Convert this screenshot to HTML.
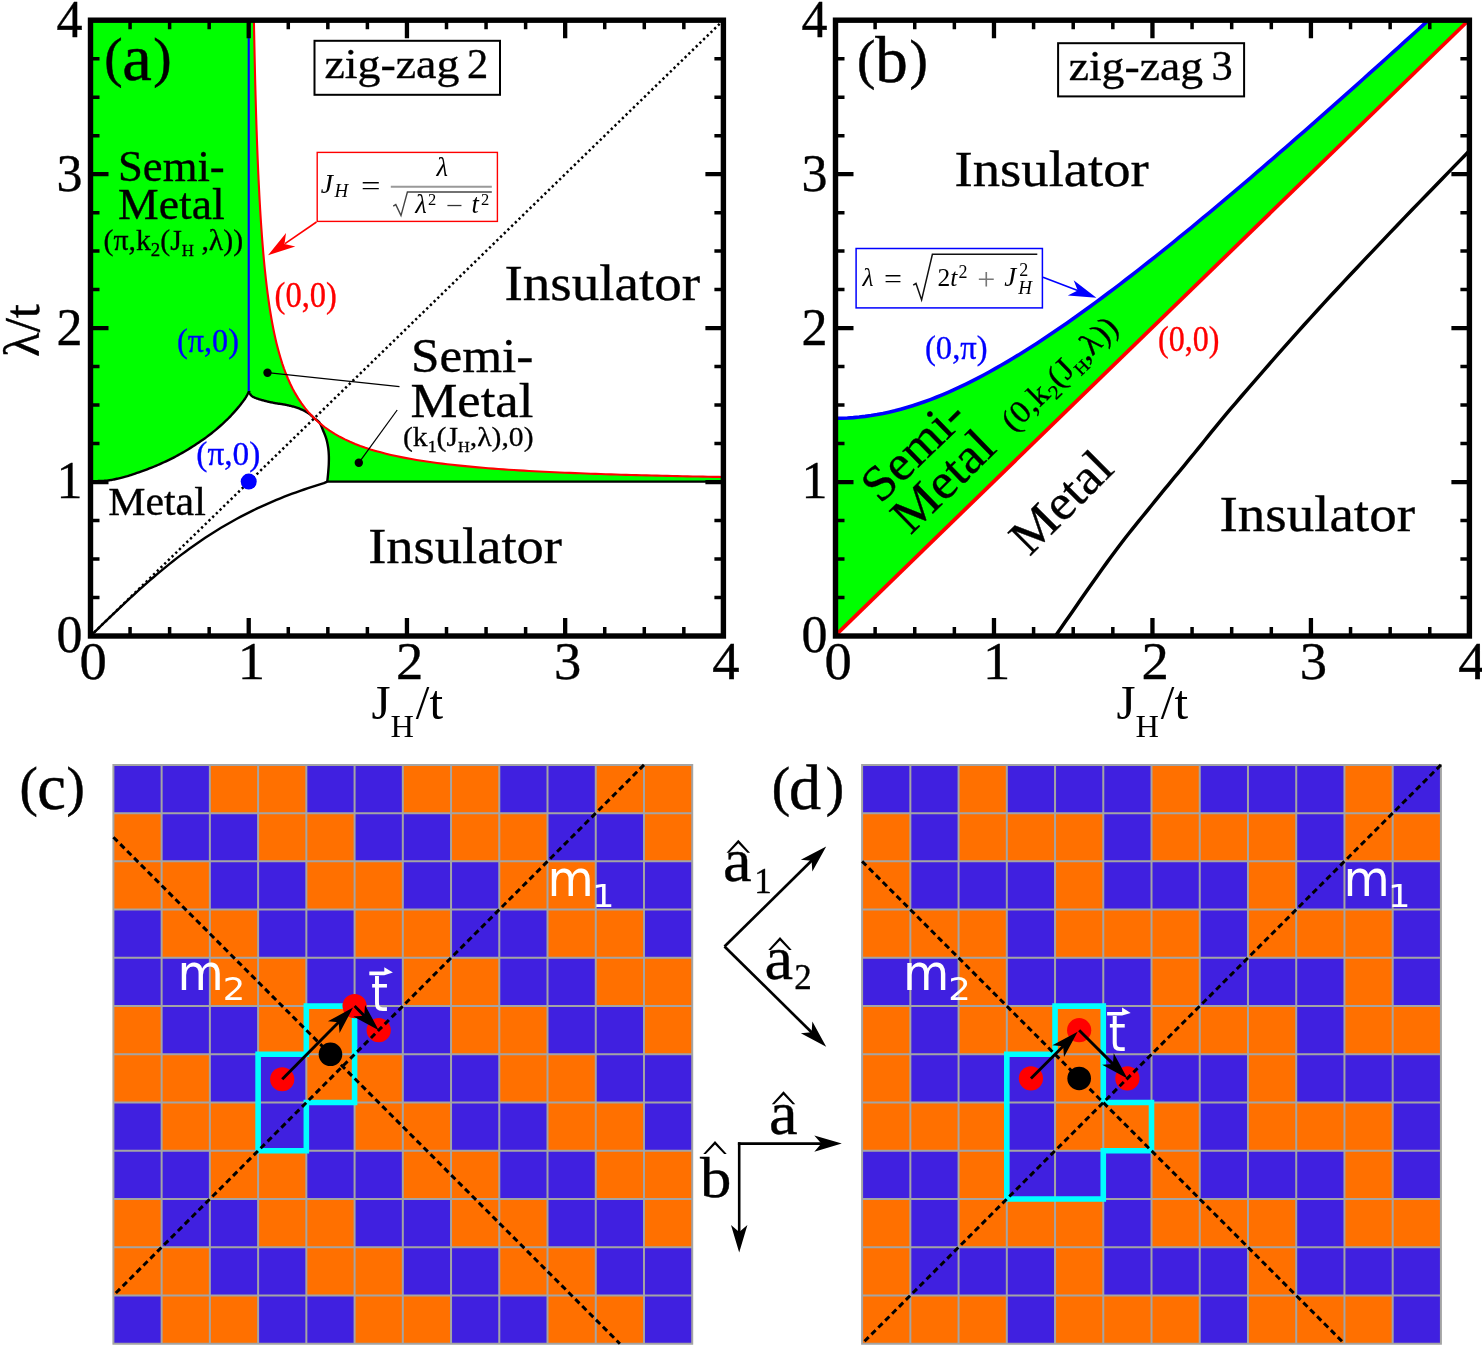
<!DOCTYPE html>
<html lang="en"><head><meta charset="utf-8"><title>Phase diagrams zig-zag 2 / zig-zag 3</title>
<style>html,body{margin:0;padding:0;background:#fff}svg{display:block}text{white-space:pre}</style></head><body>
<svg width="1482" height="1348" viewBox="0 0 1482 1348">
<rect width="1482" height="1348" fill="#fff"/>
<g id="plot-a">
<path d="M90.5 20.2 L253.91 20.2 L253.91 20.2 L254 25.18 L254.09 30.15 L254.19 35.13 L254.29 40.1 L254.38 45.08 L254.49 50.06 L254.59 55.03 L254.7 60.01 L254.81 64.98 L254.92 69.96 L255.04 74.94 L255.16 79.91 L255.28 84.89 L255.41 89.86 L255.54 94.84 L255.68 99.82 L255.82 104.79 L255.96 109.77 L256.11 114.74 L256.27 119.72 L256.42 124.7 L256.59 129.67 L256.76 134.65 L256.93 139.62 L257.11 144.6 L257.3 149.58 L257.49 154.55 L257.69 159.53 L257.9 164.5 L258.11 169.48 L258.34 174.46 L258.57 179.43 L258.81 184.41 L259.06 189.38 L259.31 194.36 L259.58 199.34 L259.86 204.31 L260.15 209.29 L260.45 214.26 L260.77 219.24 L261.1 224.22 L261.44 229.19 L261.8 234.17 L262.17 239.15 L262.56 244.12 L262.97 249.1 L263.39 254.07 L263.84 259.05 L264.31 264.03 L264.8 269 L265.32 273.98 L265.86 278.95 L266.44 283.93 L267.04 288.91 L267.68 293.88 L268.35 298.86 L269.06 303.83 L269.81 308.81 L270.61 313.79 L271.46 318.76 L272.36 323.74 L273.32 328.71 L274.35 333.69 L275.45 338.67 L276.62 343.64 L277.88 348.62 L279.23 353.59 L280.7 358.57 L282.27 363.55 L283.99 368.52 L285.85 373.5 L287.88 378.47 L290.1 383.45 L292.54 388.43 L295.23 393.4 L298.21 398.38 L301.54 403.35 L305.27 408.33 L309.48 413.31 L314.26 418.28 L319.38 422.94 L324.49 427.03 L329.61 430.66 L334.72 433.9 L339.83 436.8 L344.95 439.42 L350.06 441.8 L355.18 443.96 L360.29 445.93 L365.41 447.74 L370.52 449.41 L375.63 450.94 L380.75 452.36 L385.86 453.68 L390.98 454.91 L396.09 456.05 L401.21 457.12 L406.32 458.12 L411.43 459.05 L416.55 459.93 L421.66 460.75 L426.78 461.53 L431.89 462.26 L437 462.96 L442.12 463.61 L447.23 464.23 L452.35 464.82 L457.46 465.37 L462.58 465.9 L467.69 466.41 L472.8 466.89 L477.92 467.34 L483.03 467.78 L488.15 468.19 L493.26 468.59 L498.38 468.97 L503.49 469.33 L508.6 469.68 L513.72 470.01 L518.83 470.33 L523.95 470.64 L529.06 470.93 L534.17 471.22 L539.29 471.49 L544.4 471.75 L549.52 472 L554.63 472.24 L559.75 472.47 L564.86 472.7 L569.97 472.91 L575.09 473.12 L580.2 473.32 L585.32 473.52 L590.43 473.71 L595.54 473.89 L600.66 474.06 L605.77 474.23 L610.89 474.4 L616 474.56 L621.12 474.71 L626.23 474.86 L631.34 475.01 L636.46 475.15 L641.57 475.28 L646.69 475.41 L651.8 475.54 L656.92 475.67 L662.03 475.79 L667.14 475.91 L672.26 476.02 L677.37 476.13 L682.49 476.24 L687.6 476.34 L692.71 476.44 L697.83 476.54 L702.94 476.64 L708.06 476.73 L713.17 476.83 L718.29 476.91 L723.4 477 L723.4 481.6 L327.3 481.6 L327.3 481.6 L327.34 481.15 L327.4 480.6 L327.47 479.94 L327.54 479.2 L327.63 478.4 L327.71 477.56 L327.8 476.68 L327.89 475.79 L327.97 474.89 L328.06 474.02 L328.13 473.19 L328.2 472.4 L328.26 471.65 L328.32 470.9 L328.39 470.15 L328.44 469.41 L328.5 468.67 L328.56 467.93 L328.61 467.19 L328.66 466.46 L328.7 465.72 L328.74 464.98 L328.77 464.24 L328.8 463.5 L328.82 462.76 L328.84 462.01 L328.86 461.25 L328.87 460.5 L328.88 459.75 L328.89 458.99 L328.89 458.24 L328.88 457.5 L328.87 456.76 L328.85 456.03 L328.83 455.31 L328.8 454.6 L328.76 453.9 L328.72 453.22 L328.68 452.54 L328.63 451.87 L328.57 451.21 L328.51 450.55 L328.44 449.89 L328.37 449.24 L328.29 448.59 L328.2 447.93 L328.1 447.27 L328 446.6 L327.89 445.93 L327.77 445.25 L327.65 444.58 L327.52 443.9 L327.39 443.23 L327.24 442.55 L327.09 441.87 L326.93 441.2 L326.76 440.52 L326.59 439.85 L326.4 439.17 L326.2 438.5 L325.99 437.83 L325.76 437.16 L325.53 436.49 L325.28 435.81 L325.02 435.14 L324.76 434.48 L324.49 433.81 L324.21 433.14 L323.93 432.48 L323.65 431.81 L323.38 431.16 L323.1 430.5 L322.83 429.84 L322.56 429.16 L322.3 428.48 L322.03 427.79 L321.76 427.11 L321.49 426.43 L321.21 425.77 L320.92 425.12 L320.61 424.49 L320.29 423.9 L319.96 423.33 L319.6 422.8 L319.2 422.3 L318.76 421.81 L318.27 421.34 L317.76 420.89 L317.24 420.46 L316.71 420.06 L316.2 419.68 L315.72 419.34 L315.27 419.02 L314.87 418.74 L314.53 418.49 L314.26 418.28 L314.26 418.28 L314.01 418.05 L313.7 417.76 L313.34 417.42 L312.94 417.04 L312.5 416.63 L312.03 416.19 L311.53 415.74 L311.02 415.28 L310.49 414.83 L309.96 414.4 L309.42 413.98 L308.9 413.6 L308.37 413.24 L307.84 412.88 L307.29 412.53 L306.73 412.18 L306.16 411.84 L305.57 411.5 L304.97 411.17 L304.36 410.84 L303.74 410.52 L303.11 410.21 L302.46 409.9 L301.8 409.6 L301.12 409.31 L300.42 409.02 L299.7 408.74 L298.97 408.46 L298.22 408.19 L297.46 407.93 L296.7 407.67 L295.93 407.42 L295.17 407.18 L294.4 406.94 L293.65 406.72 L292.9 406.5 L292.16 406.29 L291.42 406.1 L290.67 405.91 L289.93 405.73 L289.19 405.56 L288.45 405.39 L287.71 405.24 L286.97 405.08 L286.23 404.93 L285.48 404.79 L284.74 404.64 L284 404.5 L283.26 404.36 L282.52 404.24 L281.78 404.12 L281.03 404.01 L280.29 403.9 L279.55 403.79 L278.81 403.69 L278.07 403.58 L277.33 403.47 L276.58 403.36 L275.84 403.23 L275.1 403.1 L274.36 402.96 L273.61 402.82 L272.86 402.67 L272.1 402.52 L271.35 402.36 L270.6 402.21 L269.85 402.05 L269.11 401.88 L268.37 401.71 L267.64 401.55 L266.91 401.37 L266.2 401.2 L265.49 401.02 L264.77 400.84 L264.05 400.65 L263.34 400.46 L262.63 400.26 L261.93 400.07 L261.24 399.87 L260.56 399.67 L259.91 399.48 L259.28 399.28 L258.67 399.09 L258.1 398.9 L257.55 398.71 L257.02 398.53 L256.52 398.35 L256.03 398.18 L255.56 398 L255.11 397.82 L254.68 397.65 L254.27 397.47 L253.88 397.28 L253.5 397.09 L253.14 396.9 L252.8 396.7 L252.48 396.49 L252.18 396.28 L251.9 396.07 L251.64 395.85 L251.4 395.63 L251.18 395.4 L250.97 395.17 L250.78 394.94 L250.59 394.71 L250.42 394.47 L250.26 394.24 L250.1 394 L249.95 393.75 L249.82 393.48 L249.71 393.2 L249.6 392.91 L249.51 392.62 L249.43 392.33 L249.36 392.05 L249.3 391.79 L249.24 391.55 L249.19 391.33 L249.14 391.15 L249.1 391 L249.1 391 L248.93 391.34 L248.74 391.74 L248.53 392.21 L248.29 392.73 L248.02 393.3 L247.73 393.92 L247.41 394.57 L247.06 395.26 L246.67 395.97 L246.25 396.7 L245.79 397.45 L245.3 398.2 L244.77 398.97 L244.2 399.78 L243.59 400.62 L242.95 401.49 L242.27 402.38 L241.57 403.3 L240.83 404.24 L240.07 405.19 L239.29 406.15 L238.48 407.13 L237.65 408.11 L236.8 409.1 L235.94 410.09 L235.06 411.1 L234.17 412.11 L233.26 413.14 L232.32 414.18 L231.36 415.23 L230.36 416.3 L229.32 417.39 L228.24 418.49 L227.11 419.61 L225.93 420.74 L224.7 421.9 L223.42 423.08 L222.09 424.29 L220.72 425.52 L219.31 426.77 L217.86 428.03 L216.36 429.31 L214.82 430.6 L213.24 431.9 L211.62 433.2 L209.96 434.5 L208.25 435.8 L206.5 437.1 L204.69 438.41 L202.8 439.74 L200.85 441.09 L198.85 442.46 L196.81 443.83 L194.73 445.19 L192.63 446.55 L190.53 447.89 L188.42 449.2 L186.32 450.47 L184.24 451.71 L182.2 452.9 L180.18 454.05 L178.15 455.17 L176.13 456.26 L174.1 457.32 L172.08 458.36 L170.05 459.37 L168.03 460.36 L166 461.33 L163.97 462.27 L161.95 463.2 L159.93 464.11 L157.9 465 L155.84 465.88 L153.71 466.75 L151.55 467.61 L149.37 468.46 L147.18 469.28 L145.02 470.08 L142.9 470.84 L140.83 471.58 L138.85 472.28 L136.97 472.93 L135.22 473.54 L133.6 474.1 L132.14 474.6 L130.81 475.04 L129.61 475.43 L128.5 475.78 L127.48 476.09 L126.51 476.36 L125.59 476.62 L124.7 476.86 L123.81 477.09 L122.91 477.32 L121.98 477.55 L121 477.8 L119.99 478.06 L118.97 478.31 L117.96 478.55 L116.94 478.79 L115.94 479.02 L114.94 479.24 L113.96 479.45 L112.99 479.64 L112.04 479.83 L111.1 480 L110.19 480.16 L109.3 480.3 L108.44 480.42 L107.61 480.53 L106.81 480.61 L106.03 480.69 L105.26 480.74 L104.51 480.79 L103.77 480.83 L103.03 480.87 L102.28 480.9 L101.53 480.93 L100.77 480.96 L100 481 L99.19 481.03 L98.32 481.06 L97.42 481.09 L96.5 481.11 L95.57 481.13 L94.67 481.14 L93.79 481.16 L92.97 481.17 L92.21 481.18 L91.54 481.18 L90.96 481.19 L90.5 481.2 Z" fill="#00ff00"/>
<path d="M90.5 481.2 L90.96 481.19 L91.54 481.18 L92.21 481.18 L92.97 481.17 L93.79 481.16 L94.67 481.14 L95.57 481.13 L96.5 481.11 L97.42 481.09 L98.32 481.06 L99.19 481.03 L100 481 L100.77 480.96 L101.53 480.93 L102.28 480.9 L103.03 480.87 L103.77 480.83 L104.51 480.79 L105.26 480.74 L106.03 480.69 L106.81 480.61 L107.61 480.53 L108.44 480.42 L109.3 480.3 L110.19 480.16 L111.1 480 L112.04 479.83 L112.99 479.64 L113.96 479.45 L114.94 479.24 L115.94 479.02 L116.94 478.79 L117.96 478.55 L118.97 478.31 L119.99 478.06 L121 477.8 L121.98 477.55 L122.91 477.32 L123.81 477.09 L124.7 476.86 L125.59 476.62 L126.51 476.36 L127.48 476.09 L128.5 475.78 L129.61 475.43 L130.81 475.04 L132.14 474.6 L133.6 474.1 L135.22 473.54 L136.97 472.93 L138.85 472.28 L140.83 471.58 L142.9 470.84 L145.02 470.08 L147.18 469.28 L149.37 468.46 L151.55 467.61 L153.71 466.75 L155.84 465.88 L157.9 465 L159.93 464.11 L161.95 463.2 L163.97 462.27 L166 461.33 L168.03 460.36 L170.05 459.37 L172.08 458.36 L174.1 457.32 L176.13 456.26 L178.15 455.17 L180.18 454.05 L182.2 452.9 L184.24 451.71 L186.32 450.47 L188.42 449.2 L190.53 447.89 L192.63 446.55 L194.73 445.19 L196.81 443.83 L198.85 442.46 L200.85 441.09 L202.8 439.74 L204.69 438.41 L206.5 437.1 L208.25 435.8 L209.96 434.5 L211.62 433.2 L213.24 431.9 L214.82 430.6 L216.36 429.31 L217.86 428.03 L219.31 426.77 L220.72 425.52 L222.09 424.29 L223.42 423.08 L224.7 421.9 L225.93 420.74 L227.11 419.61 L228.24 418.49 L229.32 417.39 L230.36 416.3 L231.36 415.23 L232.32 414.18 L233.26 413.14 L234.17 412.11 L235.06 411.1 L235.94 410.09 L236.8 409.1 L237.65 408.11 L238.48 407.13 L239.29 406.15 L240.07 405.19 L240.83 404.24 L241.57 403.3 L242.27 402.38 L242.95 401.49 L243.59 400.62 L244.2 399.78 L244.77 398.97 L245.3 398.2 L245.79 397.45 L246.25 396.7 L246.67 395.97 L247.06 395.26 L247.41 394.57 L247.73 393.92 L248.02 393.3 L248.29 392.73 L248.53 392.21 L248.74 391.74 L248.93 391.34 L249.1 391" fill="none" stroke="#000" stroke-width="2.4" stroke-linejoin="round"/>
<path d="M249.1 391 L249.14 391.15 L249.19 391.33 L249.24 391.55 L249.3 391.79 L249.36 392.05 L249.43 392.33 L249.51 392.62 L249.6 392.91 L249.71 393.2 L249.82 393.48 L249.95 393.75 L250.1 394 L250.26 394.24 L250.42 394.47 L250.59 394.71 L250.78 394.94 L250.97 395.17 L251.18 395.4 L251.4 395.63 L251.64 395.85 L251.9 396.07 L252.18 396.28 L252.48 396.49 L252.8 396.7 L253.14 396.9 L253.5 397.09 L253.88 397.28 L254.27 397.47 L254.68 397.65 L255.11 397.82 L255.56 398 L256.03 398.18 L256.52 398.35 L257.02 398.53 L257.55 398.71 L258.1 398.9 L258.67 399.09 L259.28 399.28 L259.91 399.48 L260.56 399.67 L261.24 399.87 L261.93 400.07 L262.63 400.26 L263.34 400.46 L264.05 400.65 L264.77 400.84 L265.49 401.02 L266.2 401.2 L266.91 401.37 L267.64 401.55 L268.37 401.71 L269.11 401.88 L269.85 402.05 L270.6 402.21 L271.35 402.36 L272.1 402.52 L272.86 402.67 L273.61 402.82 L274.36 402.96 L275.1 403.1 L275.84 403.23 L276.58 403.36 L277.33 403.47 L278.07 403.58 L278.81 403.69 L279.55 403.79 L280.29 403.9 L281.03 404.01 L281.78 404.12 L282.52 404.24 L283.26 404.36 L284 404.5 L284.74 404.64 L285.48 404.79 L286.23 404.93 L286.97 405.08 L287.71 405.24 L288.45 405.39 L289.19 405.56 L289.93 405.73 L290.67 405.91 L291.42 406.1 L292.16 406.29 L292.9 406.5 L293.65 406.72 L294.4 406.94 L295.17 407.18 L295.93 407.42 L296.7 407.67 L297.46 407.93 L298.22 408.19 L298.97 408.46 L299.7 408.74 L300.42 409.02 L301.12 409.31 L301.8 409.6 L302.46 409.9 L303.11 410.21 L303.74 410.52 L304.36 410.84 L304.97 411.17 L305.57 411.5 L306.16 411.84 L306.73 412.18 L307.29 412.53 L307.84 412.88 L308.37 413.24 L308.9 413.6 L309.42 413.98 L309.96 414.4 L310.49 414.83 L311.02 415.28 L311.53 415.74 L312.03 416.19 L312.5 416.63 L312.94 417.04 L313.34 417.42 L313.7 417.76 L314.01 418.05 L314.26 418.28 L314.53 418.49 L314.87 418.74 L315.27 419.02 L315.72 419.34 L316.2 419.68 L316.71 420.06 L317.24 420.46 L317.76 420.89 L318.27 421.34 L318.76 421.81 L319.2 422.3 L319.6 422.8 L319.96 423.33 L320.29 423.9 L320.61 424.49 L320.92 425.12 L321.21 425.77 L321.49 426.43 L321.76 427.11 L322.03 427.79 L322.3 428.48 L322.56 429.16 L322.83 429.84 L323.1 430.5 L323.38 431.16 L323.65 431.81 L323.93 432.48 L324.21 433.14 L324.49 433.81 L324.76 434.48 L325.02 435.14 L325.28 435.81 L325.53 436.49 L325.76 437.16 L325.99 437.83 L326.2 438.5 L326.4 439.17 L326.59 439.85 L326.76 440.52 L326.93 441.2 L327.09 441.87 L327.24 442.55 L327.39 443.23 L327.52 443.9 L327.65 444.58 L327.77 445.25 L327.89 445.93 L328 446.6 L328.1 447.27 L328.2 447.93 L328.29 448.59 L328.37 449.24 L328.44 449.89 L328.51 450.55 L328.57 451.21 L328.63 451.87 L328.68 452.54 L328.72 453.22 L328.76 453.9 L328.8 454.6 L328.83 455.31 L328.85 456.03 L328.87 456.76 L328.88 457.5 L328.89 458.24 L328.89 458.99 L328.88 459.75 L328.87 460.5 L328.86 461.25 L328.84 462.01 L328.82 462.76 L328.8 463.5 L328.77 464.24 L328.74 464.98 L328.7 465.72 L328.66 466.46 L328.61 467.19 L328.56 467.93 L328.5 468.67 L328.44 469.41 L328.39 470.15 L328.32 470.9 L328.26 471.65 L328.2 472.4 L328.13 473.19 L328.06 474.02 L327.97 474.89 L327.89 475.79 L327.8 476.68 L327.71 477.56 L327.63 478.4 L327.54 479.2 L327.47 479.94 L327.4 480.6 L327.34 481.15 L327.3 481.6" fill="none" stroke="#000" stroke-width="2.4" stroke-linejoin="round"/>
<path d="M90.5 636 L94.46 632.15 L98.41 628.31 L102.37 624.47 L106.32 620.65 L110.28 616.84 L114.23 613.05 L118.19 609.29 L122.14 605.55 L126.1 601.84 L130.06 598.16 L134.01 594.53 L137.97 590.93 L141.92 587.37 L145.88 583.86 L149.83 580.4 L153.79 576.99 L157.75 573.63 L161.7 570.32 L165.66 567.07 L169.61 563.87 L173.57 560.73 L177.52 557.66 L181.48 554.64 L185.44 551.68 L189.39 548.78 L193.35 545.94 L197.3 543.17 L201.26 540.46 L205.21 537.81 L209.17 535.22 L213.12 532.69 L217.08 530.22 L221.04 527.81 L224.99 525.46 L228.95 523.17 L232.9 520.94 L236.86 518.76 L240.81 516.64 L244.77 514.58 L248.72 512.57 L252.68 510.61 L256.64 508.7 L260.59 506.85 L264.55 505.04 L268.5 503.29 L272.46 501.58 L276.41 499.92 L280.37 498.3 L284.33 496.73 L288.28 495.2 L292.24 493.72 L296.19 492.27 L300.15 490.86 L304.1 489.5 L308.06 488.17 L312.01 486.88 L315.97 485.62 L319.93 484.4 L323.88 483.21 L327.3 481.6 L723.4 481.6" fill="none" stroke="#000" stroke-width="2.4" stroke-linejoin="round"/>
<line x1="90.5" y1="636" x2="723.4" y2="20.2" stroke="#000" stroke-width="2.5" stroke-dasharray="2.3 2.85"/>
<path d="M253.91 20.2 L254 25.18 L254.09 30.15 L254.19 35.13 L254.29 40.1 L254.38 45.08 L254.49 50.06 L254.59 55.03 L254.7 60.01 L254.81 64.98 L254.92 69.96 L255.04 74.94 L255.16 79.91 L255.28 84.89 L255.41 89.86 L255.54 94.84 L255.68 99.82 L255.82 104.79 L255.96 109.77 L256.11 114.74 L256.27 119.72 L256.42 124.7 L256.59 129.67 L256.76 134.65 L256.93 139.62 L257.11 144.6 L257.3 149.58 L257.49 154.55 L257.69 159.53 L257.9 164.5 L258.11 169.48 L258.34 174.46 L258.57 179.43 L258.81 184.41 L259.06 189.38 L259.31 194.36 L259.58 199.34 L259.86 204.31 L260.15 209.29 L260.45 214.26 L260.77 219.24 L261.1 224.22 L261.44 229.19 L261.8 234.17 L262.17 239.15 L262.56 244.12 L262.97 249.1 L263.39 254.07 L263.84 259.05 L264.31 264.03 L264.8 269 L265.32 273.98 L265.86 278.95 L266.44 283.93 L267.04 288.91 L267.68 293.88 L268.35 298.86 L269.06 303.83 L269.81 308.81 L270.61 313.79 L271.46 318.76 L272.36 323.74 L273.32 328.71 L274.35 333.69 L275.45 338.67 L276.62 343.64 L277.88 348.62 L279.23 353.59 L280.7 358.57 L282.27 363.55 L283.99 368.52 L285.85 373.5 L287.88 378.47 L290.1 383.45 L292.54 388.43 L295.23 393.4 L298.21 398.38 L301.54 403.35 L305.27 408.33 L309.48 413.31 L314.26 418.28 L319.38 422.94 L324.49 427.03 L329.61 430.66 L334.72 433.9 L339.83 436.8 L344.95 439.42 L350.06 441.8 L355.18 443.96 L360.29 445.93 L365.41 447.74 L370.52 449.41 L375.63 450.94 L380.75 452.36 L385.86 453.68 L390.98 454.91 L396.09 456.05 L401.21 457.12 L406.32 458.12 L411.43 459.05 L416.55 459.93 L421.66 460.75 L426.78 461.53 L431.89 462.26 L437 462.96 L442.12 463.61 L447.23 464.23 L452.35 464.82 L457.46 465.37 L462.58 465.9 L467.69 466.41 L472.8 466.89 L477.92 467.34 L483.03 467.78 L488.15 468.19 L493.26 468.59 L498.38 468.97 L503.49 469.33 L508.6 469.68 L513.72 470.01 L518.83 470.33 L523.95 470.64 L529.06 470.93 L534.17 471.22 L539.29 471.49 L544.4 471.75 L549.52 472 L554.63 472.24 L559.75 472.47 L564.86 472.7 L569.97 472.91 L575.09 473.12 L580.2 473.32 L585.32 473.52 L590.43 473.71 L595.54 473.89 L600.66 474.06 L605.77 474.23 L610.89 474.4 L616 474.56 L621.12 474.71 L626.23 474.86 L631.34 475.01 L636.46 475.15 L641.57 475.28 L646.69 475.41 L651.8 475.54 L656.92 475.67 L662.03 475.79 L667.14 475.91 L672.26 476.02 L677.37 476.13 L682.49 476.24 L687.6 476.34 L692.71 476.44 L697.83 476.54 L702.94 476.64 L708.06 476.73 L713.17 476.83 L718.29 476.91 L723.4 477" fill="none" stroke="#ff0000" stroke-width="2.1"/>
<line x1="248.72" y1="20.2" x2="248.72" y2="391" stroke="#0000ff" stroke-width="2.1"/>
<circle cx="248.72" cy="481.6" r="8" fill="#0000ff"/>
<circle cx="267.5" cy="372.7" r="4.2" fill="#000"/><line x1="267.5" y1="372.7" x2="399.5" y2="386.7" stroke="#000" stroke-width="1.25"/>
<circle cx="358.8" cy="462.8" r="4.2" fill="#000"/><line x1="358.8" y1="462.8" x2="397.2" y2="410" stroke="#000" stroke-width="1.25"/>
<rect x="90.5" y="20.2" width="632.9" height="615.8" fill="none" stroke="#000" stroke-width="5.4"/>
<path d="M130.06 20.2 v9 M130.06 636 v-9 M90.5 58.69 h9 M723.4 58.69 h-9" stroke="#000" stroke-width="3.5" fill="none"/>
<path d="M169.61 20.2 v9 M169.61 636 v-9 M90.5 97.17 h9 M723.4 97.17 h-9" stroke="#000" stroke-width="3.5" fill="none"/>
<path d="M209.17 20.2 v9 M209.17 636 v-9 M90.5 135.66 h9 M723.4 135.66 h-9" stroke="#000" stroke-width="3.5" fill="none"/>
<path d="M248.72 20.2 v18 M248.72 636 v-18 M90.5 174.15 h18 M723.4 174.15 h-18" stroke="#000" stroke-width="4.3" fill="none"/>
<path d="M288.28 20.2 v9 M288.28 636 v-9 M90.5 212.64 h9 M723.4 212.64 h-9" stroke="#000" stroke-width="3.5" fill="none"/>
<path d="M327.84 20.2 v9 M327.84 636 v-9 M90.5 251.12 h9 M723.4 251.12 h-9" stroke="#000" stroke-width="3.5" fill="none"/>
<path d="M367.39 20.2 v9 M367.39 636 v-9 M90.5 289.61 h9 M723.4 289.61 h-9" stroke="#000" stroke-width="3.5" fill="none"/>
<path d="M406.95 20.2 v18 M406.95 636 v-18 M90.5 328.1 h18 M723.4 328.1 h-18" stroke="#000" stroke-width="4.3" fill="none"/>
<path d="M446.51 20.2 v9 M446.51 636 v-9 M90.5 366.59 h9 M723.4 366.59 h-9" stroke="#000" stroke-width="3.5" fill="none"/>
<path d="M486.06 20.2 v9 M486.06 636 v-9 M90.5 405.07 h9 M723.4 405.07 h-9" stroke="#000" stroke-width="3.5" fill="none"/>
<path d="M525.62 20.2 v9 M525.62 636 v-9 M90.5 443.56 h9 M723.4 443.56 h-9" stroke="#000" stroke-width="3.5" fill="none"/>
<path d="M565.17 20.2 v18 M565.17 636 v-18 M90.5 482.05 h18 M723.4 482.05 h-18" stroke="#000" stroke-width="4.3" fill="none"/>
<path d="M604.73 20.2 v9 M604.73 636 v-9 M90.5 520.54 h9 M723.4 520.54 h-9" stroke="#000" stroke-width="3.5" fill="none"/>
<path d="M644.29 20.2 v9 M644.29 636 v-9 M90.5 559.02 h9 M723.4 559.02 h-9" stroke="#000" stroke-width="3.5" fill="none"/>
<path d="M683.84 20.2 v9 M683.84 636 v-9 M90.5 597.51 h9 M723.4 597.51 h-9" stroke="#000" stroke-width="3.5" fill="none"/>
<text x="93.1" y="678.8" font-size="52" fill="#000" font-family='"Liberation Serif", serif' stroke="#000" stroke-width="0.35" text-anchor="middle" textLength="27.3" lengthAdjust="spacingAndGlyphs">0</text>
<text x="82.4" y="652.4" font-size="52" fill="#000" font-family='"Liberation Serif", serif' stroke="#000" stroke-width="0.35" text-anchor="end">0</text>
<text x="251.32" y="678.8" font-size="52" fill="#000" font-family='"Liberation Serif", serif' stroke="#000" stroke-width="0.35" text-anchor="middle" textLength="27.3" lengthAdjust="spacingAndGlyphs">1</text>
<text x="82.4" y="498.45" font-size="52" fill="#000" font-family='"Liberation Serif", serif' stroke="#000" stroke-width="0.35" text-anchor="end">1</text>
<text x="409.55" y="678.8" font-size="52" fill="#000" font-family='"Liberation Serif", serif' stroke="#000" stroke-width="0.35" text-anchor="middle" textLength="27.3" lengthAdjust="spacingAndGlyphs">2</text>
<text x="82.4" y="344.5" font-size="52" fill="#000" font-family='"Liberation Serif", serif' stroke="#000" stroke-width="0.35" text-anchor="end">2</text>
<text x="567.77" y="678.8" font-size="52" fill="#000" font-family='"Liberation Serif", serif' stroke="#000" stroke-width="0.35" text-anchor="middle" textLength="27.3" lengthAdjust="spacingAndGlyphs">3</text>
<text x="82.4" y="190.55" font-size="52" fill="#000" font-family='"Liberation Serif", serif' stroke="#000" stroke-width="0.35" text-anchor="end">3</text>
<text x="726" y="678.8" font-size="52" fill="#000" font-family='"Liberation Serif", serif' stroke="#000" stroke-width="0.35" text-anchor="middle" textLength="27.3" lengthAdjust="spacingAndGlyphs">4</text>
<text x="82.4" y="36.6" font-size="52" fill="#000" font-family='"Liberation Serif", serif' stroke="#000" stroke-width="0.35" text-anchor="end">4</text>
<text x="39" y="357" font-size="51" fill="#000" font-family='"Liberation Serif", serif' stroke="#000" stroke-width="0.35" textLength="53" lengthAdjust="spacingAndGlyphs" transform="rotate(-90 39 357)">λ/t</text>
<text x="371.5" y="718.6" font-size="49" font-family='"Liberation Serif", serif'>J<tspan font-size="32.5" dy="18.4">H</tspan><tspan dy="-18.4" dx="1.8">/t</tspan></text>
<text font-family='"Liberation Serif", serif' fill="#000" stroke="#000" stroke-width="0.5"><tspan x="104.28" y="75.9" font-size="55">(</tspan><tspan x="122.2" y="79.9" font-size="66.5">a</tspan><tspan x="153.24" y="75.9" font-size="55">)</tspan></text>
<rect x="314.5" y="40.8" width="185.5" height="54" fill="#fff" stroke="#000" stroke-width="2"/>
<text x="324.4" y="78.3" font-size="42.5" fill="#000" font-family='"Liberation Serif", serif' stroke="#000" stroke-width="0.35" textLength="135" lengthAdjust="spacingAndGlyphs">zig-zag</text>
<text x="467" y="78.3" font-size="42.5" fill="#000" font-family='"Liberation Serif", serif' stroke="#000" stroke-width="0.35">2</text>
<text x="118" y="181" font-size="45" fill="#000" font-family='"Liberation Serif", serif' stroke="#000" stroke-width="0.35" textLength="106.7" lengthAdjust="spacingAndGlyphs">Semi-</text>
<text x="118" y="218.7" font-size="45" fill="#000" font-family='"Liberation Serif", serif' stroke="#000" stroke-width="0.35" textLength="106.7" lengthAdjust="spacingAndGlyphs">Metal</text>
<text x="103.6" y="250.2" font-size="30" font-family='"Liberation Serif", serif' stroke="#000" stroke-width="0.3" textLength="139.5" lengthAdjust="spacingAndGlyphs">(π,k<tspan font-size="19" dy="6">2</tspan><tspan dy="-6">(J</tspan><tspan font-size="17" dy="6">H</tspan><tspan dy="-6"> ,λ))</tspan></text>
<text x="177" y="351.8" font-size="34.5" fill="#0000ff" font-family='"Liberation Serif", serif' stroke="#0000ff" stroke-width="0.35" textLength="62" lengthAdjust="spacingAndGlyphs">(π,0)</text>
<text x="274.6" y="307.2" font-size="35" fill="#ff0000" font-family='"Liberation Serif", serif' stroke="#ff0000" stroke-width="0.35" textLength="62.3" lengthAdjust="spacingAndGlyphs">(0,0)</text>
<text x="504.4" y="300.4" font-size="50" fill="#000" font-family='"Liberation Serif", serif' stroke="#000" stroke-width="0.35" textLength="195.8" lengthAdjust="spacingAndGlyphs">Insulator</text>
<text x="411" y="372.1" font-size="49.5" fill="#000" font-family='"Liberation Serif", serif' stroke="#000" stroke-width="0.35" textLength="122.4" lengthAdjust="spacingAndGlyphs">Semi-</text>
<text x="410.4" y="416.6" font-size="49.5" fill="#000" font-family='"Liberation Serif", serif' stroke="#000" stroke-width="0.35" textLength="123" lengthAdjust="spacingAndGlyphs">Metal</text>
<text x="403" y="446.3" font-size="28" font-family='"Liberation Serif", serif' stroke="#000" stroke-width="0.3" textLength="130.5" lengthAdjust="spacingAndGlyphs">(k<tspan font-size="17" dy="5.5">1</tspan><tspan dy="-5.5">(J</tspan><tspan font-size="15.5" dy="5.5">H</tspan><tspan dy="-5.5">,λ),0)</tspan></text>
<text x="196.3" y="464.8" font-size="34.5" fill="#0000ff" font-family='"Liberation Serif", serif' stroke="#0000ff" stroke-width="0.35" textLength="64" lengthAdjust="spacingAndGlyphs">(π,0)</text>
<text x="108.2" y="514.7" font-size="41" fill="#000" font-family='"Liberation Serif", serif' stroke="#000" stroke-width="0.35" textLength="97.6" lengthAdjust="spacingAndGlyphs">Metal</text>
<text x="368.2" y="563.2" font-size="50" fill="#000" font-family='"Liberation Serif", serif' stroke="#000" stroke-width="0.35" textLength="193.8" lengthAdjust="spacingAndGlyphs">Insulator</text>
<line x1="316.5" y1="222" x2="285" y2="243.6" stroke="#ff0000" stroke-width="1.6"/>
<polygon points="268,255.3 286.03,232.97 284.49,243.98 295.31,246.49" fill="#ff0000"/>
<rect x="317.2" y="152.4" width="180.2" height="69" fill="#fff" stroke="#ff0000" stroke-width="1.4"/>
<text x="320.8" y="193.3" font-size="27.5" font-family='"Liberation Serif", serif' font-style="italic">J<tspan font-size="19" dy="4.0" dx="1.4">H</tspan></text>
<text x="361" y="194.5" font-size="27" font-family='"Liberation Serif", serif' textLength="19.5" lengthAdjust="spacingAndGlyphs">=</text>
<text x="436.6" y="175.7" font-size="26.5" font-family='"Liberation Serif", serif' font-style="italic">λ</text>
<line x1="390.8" y1="186.8" x2="491.8" y2="186.8" stroke="#999" stroke-width="1.9"/>
<path d="M393.2 206.2 l2.6 -1.6 l5.2 11 l6.4 -23.6 h84.4" fill="none" stroke="#444" stroke-width="1.4"/>
<text x="415.2" y="213" font-size="26.5" font-family='"Liberation Serif", serif' font-style="italic">λ<tspan font-size="16.5" dy="-8.0" dx="1.2" font-style="normal">2</tspan></text>
<text x="446" y="214.2" font-size="25.5" font-family='"Liberation Serif", serif' fill="#333" textLength="17" lengthAdjust="spacingAndGlyphs">−</text>
<text x="471.5" y="213" font-size="26.5" font-family='"Liberation Serif", serif' font-style="italic">t<tspan font-size="16.5" dy="-8.0" dx="2.2" font-style="normal">2</tspan></text>
</g>
<g id="plot-b">
<path d="M835.5 636 L835.5 418.28 L841.43 418.21 L847.36 417.98 L853.29 417.6 L859.22 417.07 L865.15 416.39 L871.08 415.56 L877.01 414.58 L882.94 413.46 L888.87 412.19 L894.8 410.79 L900.73 409.25 L906.66 407.57 L912.58 405.76 L918.51 403.83 L924.44 401.76 L930.37 399.58 L936.3 397.27 L942.23 394.85 L948.16 392.32 L954.09 389.68 L960.02 386.93 L965.95 384.09 L971.88 381.14 L977.81 378.1 L983.74 374.97 L989.67 371.74 L995.6 368.44 L1001.53 365.05 L1007.46 361.58 L1013.39 358.04 L1019.32 354.42 L1025.25 350.73 L1031.18 346.98 L1037.11 343.15 L1043.04 339.27 L1048.97 335.33 L1054.89 331.33 L1060.82 327.27 L1066.75 323.16 L1072.68 319 L1078.61 314.79 L1084.54 310.53 L1090.47 306.22 L1096.4 301.88 L1102.33 297.48 L1108.26 293.05 L1114.19 288.58 L1120.12 284.08 L1126.05 279.53 L1131.98 274.96 L1137.91 270.34 L1143.84 265.7 L1149.77 261.03 L1155.7 256.32 L1161.63 251.59 L1167.56 246.83 L1173.49 242.04 L1179.42 237.22 L1185.35 232.39 L1191.28 227.52 L1197.21 222.64 L1203.13 217.73 L1209.06 212.8 L1214.99 207.85 L1220.92 202.88 L1226.85 197.89 L1232.78 192.89 L1238.71 187.86 L1244.64 182.82 L1250.57 177.76 L1256.5 172.68 L1262.43 167.59 L1268.36 162.48 L1274.29 157.36 L1280.22 152.22 L1286.15 147.07 L1292.08 141.9 L1298.01 136.73 L1303.94 131.54 L1309.87 126.33 L1315.8 121.12 L1321.73 115.9 L1327.66 110.66 L1333.59 105.41 L1339.52 100.15 L1345.44 94.88 L1351.37 89.61 L1357.3 84.32 L1363.23 79.02 L1369.16 73.71 L1375.09 68.4 L1381.02 63.07 L1386.95 57.74 L1392.88 52.4 L1398.81 47.05 L1404.74 41.7 L1410.67 36.33 L1416.6 30.96 L1422.53 25.58 L1428.46 20.2 L1469.4 20.2 Z" fill="#00ff00"/>
<path d="M835.5 418.28 L841.43 418.21 L847.36 417.98 L853.29 417.6 L859.22 417.07 L865.15 416.39 L871.08 415.56 L877.01 414.58 L882.94 413.46 L888.87 412.19 L894.8 410.79 L900.73 409.25 L906.66 407.57 L912.58 405.76 L918.51 403.83 L924.44 401.76 L930.37 399.58 L936.3 397.27 L942.23 394.85 L948.16 392.32 L954.09 389.68 L960.02 386.93 L965.95 384.09 L971.88 381.14 L977.81 378.1 L983.74 374.97 L989.67 371.74 L995.6 368.44 L1001.53 365.05 L1007.46 361.58 L1013.39 358.04 L1019.32 354.42 L1025.25 350.73 L1031.18 346.98 L1037.11 343.15 L1043.04 339.27 L1048.97 335.33 L1054.89 331.33 L1060.82 327.27 L1066.75 323.16 L1072.68 319 L1078.61 314.79 L1084.54 310.53 L1090.47 306.22 L1096.4 301.88 L1102.33 297.48 L1108.26 293.05 L1114.19 288.58 L1120.12 284.08 L1126.05 279.53 L1131.98 274.96 L1137.91 270.34 L1143.84 265.7 L1149.77 261.03 L1155.7 256.32 L1161.63 251.59 L1167.56 246.83 L1173.49 242.04 L1179.42 237.22 L1185.35 232.39 L1191.28 227.52 L1197.21 222.64 L1203.13 217.73 L1209.06 212.8 L1214.99 207.85 L1220.92 202.88 L1226.85 197.89 L1232.78 192.89 L1238.71 187.86 L1244.64 182.82 L1250.57 177.76 L1256.5 172.68 L1262.43 167.59 L1268.36 162.48 L1274.29 157.36 L1280.22 152.22 L1286.15 147.07 L1292.08 141.9 L1298.01 136.73 L1303.94 131.54 L1309.87 126.33 L1315.8 121.12 L1321.73 115.9 L1327.66 110.66 L1333.59 105.41 L1339.52 100.15 L1345.44 94.88 L1351.37 89.61 L1357.3 84.32 L1363.23 79.02 L1369.16 73.71 L1375.09 68.4 L1381.02 63.07 L1386.95 57.74 L1392.88 52.4 L1398.81 47.05 L1404.74 41.7 L1410.67 36.33 L1416.6 30.96 L1422.53 25.58 L1428.46 20.2" fill="none" stroke="#0000ff" stroke-width="3.6"/>
<line x1="835.5" y1="635.3" x2="1469.4" y2="19.5" stroke="#ff0000" stroke-width="3.8"/>
<path d="M1055.46 636 L1058.2 632.08 L1061.69 627.06 L1065.81 621.11 L1070.44 614.42 L1075.45 607.19 L1080.73 599.59 L1086.15 591.81 L1091.59 584.04 L1096.93 576.46 L1102.04 569.25 L1106.8 562.61 L1111.09 556.72 L1115.01 551.43 L1118.75 546.46 L1122.35 541.76 L1125.81 537.3 L1129.18 533.02 L1132.46 528.9 L1135.69 524.88 L1138.89 520.94 L1142.07 517.01 L1145.27 513.08 L1148.51 509.08 L1151.82 504.99 L1155.13 500.88 L1158.41 496.84 L1161.65 492.86 L1164.88 488.93 L1168.09 485.02 L1171.31 481.13 L1174.54 477.22 L1177.79 473.29 L1181.08 469.31 L1184.42 465.28 L1187.81 461.16 L1191.28 456.96 L1194.71 452.76 L1198.05 448.64 L1201.34 444.57 L1204.61 440.51 L1207.92 436.4 L1211.31 432.2 L1214.83 427.87 L1218.51 423.37 L1222.41 418.66 L1226.56 413.68 L1231.01 408.4 L1235.81 402.77 L1240.98 396.74 L1246.51 390.33 L1252.34 383.58 L1258.43 376.57 L1264.73 369.34 L1271.2 361.95 L1277.79 354.45 L1284.45 346.9 L1291.14 339.36 L1297.81 331.88 L1304.42 324.52 L1310.93 317.32 L1317.38 310.23 L1323.89 303.13 L1330.44 296.04 L1337.03 288.94 L1343.65 281.85 L1350.29 274.77 L1356.94 267.7 L1363.6 260.64 L1370.26 253.61 L1376.91 246.59 L1383.55 239.61 L1390.16 232.65 L1397.02 225.47 L1404.29 217.89 L1411.83 210.06 L1419.51 202.11 L1427.19 194.18 L1434.73 186.41 L1442 178.93 L1448.86 171.88 L1455.16 165.4 L1460.78 159.63 L1465.57 154.7 L1469.4 150.75" fill="none" stroke="#000" stroke-width="3.5"/>
<rect x="835.5" y="20.2" width="633.9" height="615.8" fill="none" stroke="#000" stroke-width="5.4"/>
<path d="M875.12 20.2 v9 M875.12 636 v-9 M835.5 58.69 h9 M1469.4 58.69 h-9" stroke="#000" stroke-width="3.5" fill="none"/>
<path d="M914.74 20.2 v9 M914.74 636 v-9 M835.5 97.17 h9 M1469.4 97.17 h-9" stroke="#000" stroke-width="3.5" fill="none"/>
<path d="M954.36 20.2 v9 M954.36 636 v-9 M835.5 135.66 h9 M1469.4 135.66 h-9" stroke="#000" stroke-width="3.5" fill="none"/>
<path d="M993.98 20.2 v18 M993.98 636 v-18 M835.5 174.15 h18 M1469.4 174.15 h-18" stroke="#000" stroke-width="4.3" fill="none"/>
<path d="M1033.59 20.2 v9 M1033.59 636 v-9 M835.5 212.64 h9 M1469.4 212.64 h-9" stroke="#000" stroke-width="3.5" fill="none"/>
<path d="M1073.21 20.2 v9 M1073.21 636 v-9 M835.5 251.12 h9 M1469.4 251.12 h-9" stroke="#000" stroke-width="3.5" fill="none"/>
<path d="M1112.83 20.2 v9 M1112.83 636 v-9 M835.5 289.61 h9 M1469.4 289.61 h-9" stroke="#000" stroke-width="3.5" fill="none"/>
<path d="M1152.45 20.2 v18 M1152.45 636 v-18 M835.5 328.1 h18 M1469.4 328.1 h-18" stroke="#000" stroke-width="4.3" fill="none"/>
<path d="M1192.07 20.2 v9 M1192.07 636 v-9 M835.5 366.59 h9 M1469.4 366.59 h-9" stroke="#000" stroke-width="3.5" fill="none"/>
<path d="M1231.69 20.2 v9 M1231.69 636 v-9 M835.5 405.07 h9 M1469.4 405.07 h-9" stroke="#000" stroke-width="3.5" fill="none"/>
<path d="M1271.31 20.2 v9 M1271.31 636 v-9 M835.5 443.56 h9 M1469.4 443.56 h-9" stroke="#000" stroke-width="3.5" fill="none"/>
<path d="M1310.93 20.2 v18 M1310.93 636 v-18 M835.5 482.05 h18 M1469.4 482.05 h-18" stroke="#000" stroke-width="4.3" fill="none"/>
<path d="M1350.54 20.2 v9 M1350.54 636 v-9 M835.5 520.54 h9 M1469.4 520.54 h-9" stroke="#000" stroke-width="3.5" fill="none"/>
<path d="M1390.16 20.2 v9 M1390.16 636 v-9 M835.5 559.02 h9 M1469.4 559.02 h-9" stroke="#000" stroke-width="3.5" fill="none"/>
<path d="M1429.78 20.2 v9 M1429.78 636 v-9 M835.5 597.51 h9 M1469.4 597.51 h-9" stroke="#000" stroke-width="3.5" fill="none"/>
<text x="838.1" y="678.8" font-size="52" fill="#000" font-family='"Liberation Serif", serif' stroke="#000" stroke-width="0.35" text-anchor="middle" textLength="27.3" lengthAdjust="spacingAndGlyphs">0</text>
<text x="827.4" y="652.4" font-size="52" fill="#000" font-family='"Liberation Serif", serif' stroke="#000" stroke-width="0.35" text-anchor="end">0</text>
<text x="996.58" y="678.8" font-size="52" fill="#000" font-family='"Liberation Serif", serif' stroke="#000" stroke-width="0.35" text-anchor="middle" textLength="27.3" lengthAdjust="spacingAndGlyphs">1</text>
<text x="827.4" y="498.45" font-size="52" fill="#000" font-family='"Liberation Serif", serif' stroke="#000" stroke-width="0.35" text-anchor="end">1</text>
<text x="1155.05" y="678.8" font-size="52" fill="#000" font-family='"Liberation Serif", serif' stroke="#000" stroke-width="0.35" text-anchor="middle" textLength="27.3" lengthAdjust="spacingAndGlyphs">2</text>
<text x="827.4" y="344.5" font-size="52" fill="#000" font-family='"Liberation Serif", serif' stroke="#000" stroke-width="0.35" text-anchor="end">2</text>
<text x="1313.53" y="678.8" font-size="52" fill="#000" font-family='"Liberation Serif", serif' stroke="#000" stroke-width="0.35" text-anchor="middle" textLength="27.3" lengthAdjust="spacingAndGlyphs">3</text>
<text x="827.4" y="190.55" font-size="52" fill="#000" font-family='"Liberation Serif", serif' stroke="#000" stroke-width="0.35" text-anchor="end">3</text>
<text x="1472" y="678.8" font-size="52" fill="#000" font-family='"Liberation Serif", serif' stroke="#000" stroke-width="0.35" text-anchor="middle" textLength="27.3" lengthAdjust="spacingAndGlyphs">4</text>
<text x="827.4" y="36.6" font-size="52" fill="#000" font-family='"Liberation Serif", serif' stroke="#000" stroke-width="0.35" text-anchor="end">4</text>
<text x="1116.5" y="718.6" font-size="49" font-family='"Liberation Serif", serif'>J<tspan font-size="32.5" dy="18.4">H</tspan><tspan dy="-18.4" dx="1.8">/t</tspan></text>
<text font-family='"Liberation Serif", serif' fill="#000" stroke="#000" stroke-width="0.5"><tspan x="856.98" y="77.9" font-size="55">(</tspan><tspan x="875.2" y="82" font-size="65">b</tspan><tspan x="909.54" y="77.9" font-size="55">)</tspan></text>
<rect x="1058.1" y="43.2" width="186" height="53.2" fill="#fff" stroke="#000" stroke-width="2"/>
<text x="1068.7" y="80.1" font-size="42.5" fill="#000" font-family='"Liberation Serif", serif' stroke="#000" stroke-width="0.35" textLength="134.3" lengthAdjust="spacingAndGlyphs">zig-zag</text>
<text x="1211.4" y="80.1" font-size="42.5" fill="#000" font-family='"Liberation Serif", serif' stroke="#000" stroke-width="0.35">3</text>
<text x="954.5" y="186.4" font-size="50" fill="#000" font-family='"Liberation Serif", serif' stroke="#000" stroke-width="0.35" textLength="194.3" lengthAdjust="spacingAndGlyphs">Insulator</text>
<text x="1219.4" y="530.8" font-size="50" fill="#000" font-family='"Liberation Serif", serif' stroke="#000" stroke-width="0.35" textLength="195.6" lengthAdjust="spacingAndGlyphs">Insulator</text>
<text x="925" y="359.2" font-size="34.5" fill="#0000ff" font-family='"Liberation Serif", serif' stroke="#0000ff" stroke-width="0.35" textLength="62.6" lengthAdjust="spacingAndGlyphs">(0,π)</text>
<text x="1158" y="350.9" font-size="35" fill="#ff0000" font-family='"Liberation Serif", serif' stroke="#ff0000" stroke-width="0.35" textLength="61.4" lengthAdjust="spacingAndGlyphs">(0,0)</text>
<text x="880.5" y="504.5" font-size="50" fill="#000" font-family='"Liberation Serif", serif' stroke="#000" stroke-width="0.35" textLength="123" lengthAdjust="spacingAndGlyphs" transform="rotate(-44.2 880.5 504.5)">Semi-</text>
<text x="910.5" y="535.5" font-size="50" fill="#000" font-family='"Liberation Serif", serif' stroke="#000" stroke-width="0.35" textLength="122.4" lengthAdjust="spacingAndGlyphs" transform="rotate(-44.2 910.5 535.5)">Metal</text>
<text x="1013.5" y="433" font-size="32" font-family='"Liberation Serif", serif' stroke="#000" stroke-width="0.3" textLength="148.5" lengthAdjust="spacingAndGlyphs" transform="rotate(-44.2 1013.5 433)">(0,k<tspan font-size="20" dy="6.5">2</tspan><tspan dy="-6.5">(J</tspan><tspan font-size="18" dy="6.5">H</tspan><tspan dy="-6.5">,λ))</tspan></text>
<text x="1029.5" y="557" font-size="50" fill="#000" font-family='"Liberation Serif", serif' stroke="#000" stroke-width="0.35" textLength="122" lengthAdjust="spacingAndGlyphs" transform="rotate(-45 1029.5 557)">Metal</text>
<line x1="1043" y1="277.2" x2="1079" y2="291" stroke="#0000ff" stroke-width="1.6"/>
<polygon points="1096.4,297.7 1067.79,295.5 1077.73,290.53 1073.67,280.19" fill="#0000ff"/>
<rect x="856.1" y="248.5" width="186.3" height="59.4" fill="#fff" stroke="#0000ff" stroke-width="1.5"/>
<text x="862.5" y="286" font-size="25.5" font-family='"Liberation Serif", serif' font-style="italic">λ</text>
<text x="884" y="287.5" font-size="27" font-family='"Liberation Serif", serif' textLength="18" lengthAdjust="spacingAndGlyphs">=</text>
<path d="M913.2 285.2 l2.8 -1.7 l5.6 16.4 l10.8 -45.6 h104.9" fill="none" stroke="#111" stroke-width="1.5"/>
<text x="937.4" y="286" font-size="25.5" font-family='"Liberation Serif", serif'>2<tspan font-style="italic">t</tspan><tspan font-size="18" dy="-8.5" dx="1.2">2</tspan></text>
<text x="977.2" y="289.6" font-size="32" font-family='"Liberation Serif", serif' fill="#777">+</text>
<text x="1004.3" y="286" font-size="27" font-family='"Liberation Serif", serif' font-style="italic">J</text>
<text x="1019.2" y="276.4" font-size="18" font-family='"Liberation Serif", serif'>2</text>
<text x="1018.3" y="293.6" font-size="19" font-family='"Liberation Serif", serif' font-style="italic">H</text>
</g>
<g id="panel-c">
<rect x="113.4" y="764.9" width="578.82" height="578.82" fill="#ff7000"/>
<path d="M113.4 764.9h48.23v48.23h-48.23zM161.63 764.9h48.23v48.23h-48.23zM306.34 764.9h48.23v48.23h-48.23zM354.58 764.9h48.23v48.23h-48.23zM499.28 764.9h48.23v48.23h-48.23zM547.51 764.9h48.23v48.23h-48.23zM161.63 813.13h48.23v48.23h-48.23zM209.87 813.13h48.23v48.23h-48.23zM354.58 813.13h48.23v48.23h-48.23zM402.81 813.13h48.23v48.23h-48.23zM547.51 813.13h48.23v48.23h-48.23zM595.75 813.13h48.23v48.23h-48.23zM209.87 861.37h48.23v48.23h-48.23zM258.11 861.37h48.23v48.23h-48.23zM402.81 861.37h48.23v48.23h-48.23zM451.04 861.37h48.23v48.23h-48.23zM595.75 861.37h48.23v48.23h-48.23zM643.99 861.37h48.23v48.23h-48.23zM113.4 909.61h48.23v48.23h-48.23zM258.11 909.61h48.23v48.23h-48.23zM306.34 909.61h48.23v48.23h-48.23zM451.04 909.61h48.23v48.23h-48.23zM499.28 909.61h48.23v48.23h-48.23zM643.99 909.61h48.23v48.23h-48.23zM113.4 957.84h48.23v48.23h-48.23zM161.63 957.84h48.23v48.23h-48.23zM306.34 957.84h48.23v48.23h-48.23zM354.58 957.84h48.23v48.23h-48.23zM499.28 957.84h48.23v48.23h-48.23zM547.51 957.84h48.23v48.23h-48.23zM161.63 1006.08h48.23v48.23h-48.23zM209.87 1006.08h48.23v48.23h-48.23zM354.58 1006.08h48.23v48.23h-48.23zM402.81 1006.08h48.23v48.23h-48.23zM547.51 1006.08h48.23v48.23h-48.23zM595.75 1006.08h48.23v48.23h-48.23zM209.87 1054.31h48.23v48.23h-48.23zM258.11 1054.31h48.23v48.23h-48.23zM402.81 1054.31h48.23v48.23h-48.23zM451.04 1054.31h48.23v48.23h-48.23zM595.75 1054.31h48.23v48.23h-48.23zM643.99 1054.31h48.23v48.23h-48.23zM113.4 1102.55h48.23v48.23h-48.23zM258.11 1102.55h48.23v48.23h-48.23zM306.34 1102.55h48.23v48.23h-48.23zM451.04 1102.55h48.23v48.23h-48.23zM499.28 1102.55h48.23v48.23h-48.23zM643.99 1102.55h48.23v48.23h-48.23zM113.4 1150.78h48.23v48.23h-48.23zM161.63 1150.78h48.23v48.23h-48.23zM306.34 1150.78h48.23v48.23h-48.23zM354.58 1150.78h48.23v48.23h-48.23zM499.28 1150.78h48.23v48.23h-48.23zM547.51 1150.78h48.23v48.23h-48.23zM161.63 1199.01h48.23v48.23h-48.23zM209.87 1199.01h48.23v48.23h-48.23zM354.58 1199.01h48.23v48.23h-48.23zM402.81 1199.01h48.23v48.23h-48.23zM547.51 1199.01h48.23v48.23h-48.23zM595.75 1199.01h48.23v48.23h-48.23zM209.87 1247.25h48.23v48.23h-48.23zM258.11 1247.25h48.23v48.23h-48.23zM402.81 1247.25h48.23v48.23h-48.23zM451.04 1247.25h48.23v48.23h-48.23zM595.75 1247.25h48.23v48.23h-48.23zM643.99 1247.25h48.23v48.23h-48.23zM113.4 1295.49h48.23v48.23h-48.23zM258.11 1295.49h48.23v48.23h-48.23zM306.34 1295.49h48.23v48.23h-48.23zM451.04 1295.49h48.23v48.23h-48.23zM499.28 1295.49h48.23v48.23h-48.23zM643.99 1295.49h48.23v48.23h-48.23z" fill="#4020e0"/>
<path d="M113.4 764V1344.62M112.5 764.9H693.12M161.63 764V1344.62M112.5 813.13H693.12M209.87 764V1344.62M112.5 861.37H693.12M258.11 764V1344.62M112.5 909.61H693.12M306.34 764V1344.62M112.5 957.84H693.12M354.58 764V1344.62M112.5 1006.08H693.12M402.81 764V1344.62M112.5 1054.31H693.12M451.04 764V1344.62M112.5 1102.55H693.12M499.28 764V1344.62M112.5 1150.78H693.12M547.51 764V1344.62M112.5 1199.01H693.12M595.75 764V1344.62M112.5 1247.25H693.12M643.99 764V1344.62M112.5 1295.49H693.12M692.22 764V1344.62M112.5 1343.72H693.12" stroke="#a4a4a4" stroke-width="2" fill="none"/>
<polygon points="306.34,1006.08 354.58,1006.08 354.58,1102.55 306.34,1102.55 306.34,1150.78 258.11,1150.78 258.11,1054.31 306.34,1054.31" fill="none" stroke="#00ffff" stroke-width="5.6" stroke-linejoin="miter"/>
<circle cx="282.22" cy="1079.23" r="12.1" fill="#ff0000"/>
<circle cx="354.58" cy="1006.08" r="12.1" fill="#ff0000"/>
<circle cx="378.69" cy="1030.19" r="12.1" fill="#ff0000"/>
<line x1="643.99" y1="764.9" x2="113.4" y2="1295.49" stroke="#000" stroke-width="3" stroke-dasharray="5.9 3.85"/>
<line x1="113.4" y1="837.25" x2="619.87" y2="1343.72" stroke="#000" stroke-width="3" stroke-dasharray="5.9 3.85"/>
<circle cx="330.46" cy="1054.31" r="11.8" fill="#000"/>
<line x1="282.22" y1="1079.23" x2="339.36" y2="1021.44" stroke="#000" stroke-width="2.9"/>
<polygon points="353.08,1007.58 339.57,1032.89 338.66,1022.15 327.91,1021.36" fill="#000"/>
<line x1="354.58" y1="1006.08" x2="364.9" y2="1016.4" stroke="#000" stroke-width="2.9"/>
<polygon points="378.69,1030.19 353.45,1016.55 364.2,1015.7 365.05,1004.95" fill="#000"/>
<text x="371" y="1011" font-size="49.5" fill="#fff" font-family='"DejaVu Sans", "Liberation Sans", sans-serif' textLength="17" lengthAdjust="spacingAndGlyphs">t</text>
<path d="M369.3 971.6 h15 v-4.4 l8.6 5.4 l-8.6 2.6 h-15 z" fill="#fff"/>
<text x="547.5" y="896.1" font-size="50" fill="#fff" font-family='"DejaVu Sans", "Liberation Sans", sans-serif' textLength="46.3" lengthAdjust="spacingAndGlyphs">m</text>
<text x="591.9" y="906.8" font-size="32.5" fill="#fff" font-family='"DejaVu Sans", "Liberation Sans", sans-serif' textLength="22.5" lengthAdjust="spacingAndGlyphs">1</text>
<text x="177.5" y="989.6" font-size="50" fill="#fff" font-family='"DejaVu Sans", "Liberation Sans", sans-serif' textLength="46.3" lengthAdjust="spacingAndGlyphs">m</text>
<text x="222.7" y="1000.3" font-size="32.5" fill="#fff" font-family='"DejaVu Sans", "Liberation Sans", sans-serif' textLength="22.5" lengthAdjust="spacingAndGlyphs">2</text>
<text font-family='"Liberation Serif", serif' fill="#000" stroke="#000" stroke-width="0.5"><tspan x="19.48" y="804.7" font-size="55">(</tspan><tspan x="37.2" y="808.8" font-size="64.5">c</tspan><tspan x="66.44" y="804.7" font-size="55">)</tspan></text>
</g>
<g id="panel-d">
<rect x="862.1" y="764.9" width="578.82" height="578.82" fill="#ff7000"/>
<path d="M862.1 764.9h48.23v48.23h-48.23zM910.34 764.9h48.23v48.23h-48.23zM1006.81 764.9h48.23v48.23h-48.23zM1055.04 764.9h48.23v48.23h-48.23zM1103.28 764.9h48.23v48.23h-48.23zM1199.74 764.9h48.23v48.23h-48.23zM1247.98 764.9h48.23v48.23h-48.23zM1296.22 764.9h48.23v48.23h-48.23zM1392.68 764.9h48.23v48.23h-48.23zM910.34 813.13h48.23v48.23h-48.23zM1103.28 813.13h48.23v48.23h-48.23zM1296.22 813.13h48.23v48.23h-48.23zM910.34 861.37h48.23v48.23h-48.23zM958.57 861.37h48.23v48.23h-48.23zM1006.81 861.37h48.23v48.23h-48.23zM1103.28 861.37h48.23v48.23h-48.23zM1151.51 861.37h48.23v48.23h-48.23zM1199.74 861.37h48.23v48.23h-48.23zM1296.22 861.37h48.23v48.23h-48.23zM1344.45 861.37h48.23v48.23h-48.23zM1392.68 861.37h48.23v48.23h-48.23zM1006.81 909.61h48.23v48.23h-48.23zM1199.74 909.61h48.23v48.23h-48.23zM1392.68 909.61h48.23v48.23h-48.23zM862.1 957.84h48.23v48.23h-48.23zM910.34 957.84h48.23v48.23h-48.23zM1006.81 957.84h48.23v48.23h-48.23zM1055.04 957.84h48.23v48.23h-48.23zM1103.28 957.84h48.23v48.23h-48.23zM1199.74 957.84h48.23v48.23h-48.23zM1247.98 957.84h48.23v48.23h-48.23zM1296.22 957.84h48.23v48.23h-48.23zM1392.68 957.84h48.23v48.23h-48.23zM910.34 1006.08h48.23v48.23h-48.23zM1103.28 1006.08h48.23v48.23h-48.23zM1296.22 1006.08h48.23v48.23h-48.23zM910.34 1054.31h48.23v48.23h-48.23zM958.57 1054.31h48.23v48.23h-48.23zM1006.81 1054.31h48.23v48.23h-48.23zM1103.28 1054.31h48.23v48.23h-48.23zM1151.51 1054.31h48.23v48.23h-48.23zM1199.74 1054.31h48.23v48.23h-48.23zM1296.22 1054.31h48.23v48.23h-48.23zM1344.45 1054.31h48.23v48.23h-48.23zM1392.68 1054.31h48.23v48.23h-48.23zM1006.81 1102.55h48.23v48.23h-48.23zM1199.74 1102.55h48.23v48.23h-48.23zM1392.68 1102.55h48.23v48.23h-48.23zM862.1 1150.78h48.23v48.23h-48.23zM910.34 1150.78h48.23v48.23h-48.23zM1006.81 1150.78h48.23v48.23h-48.23zM1055.04 1150.78h48.23v48.23h-48.23zM1103.28 1150.78h48.23v48.23h-48.23zM1199.74 1150.78h48.23v48.23h-48.23zM1247.98 1150.78h48.23v48.23h-48.23zM1296.22 1150.78h48.23v48.23h-48.23zM1392.68 1150.78h48.23v48.23h-48.23zM910.34 1199.01h48.23v48.23h-48.23zM1103.28 1199.01h48.23v48.23h-48.23zM1296.22 1199.01h48.23v48.23h-48.23zM910.34 1247.25h48.23v48.23h-48.23zM958.57 1247.25h48.23v48.23h-48.23zM1006.81 1247.25h48.23v48.23h-48.23zM1103.28 1247.25h48.23v48.23h-48.23zM1151.51 1247.25h48.23v48.23h-48.23zM1199.74 1247.25h48.23v48.23h-48.23zM1296.22 1247.25h48.23v48.23h-48.23zM1344.45 1247.25h48.23v48.23h-48.23zM1392.68 1247.25h48.23v48.23h-48.23zM1006.81 1295.49h48.23v48.23h-48.23zM1199.74 1295.49h48.23v48.23h-48.23zM1392.68 1295.49h48.23v48.23h-48.23z" fill="#4020e0"/>
<path d="M862.1 764V1344.62M861.2 764.9H1441.82M910.34 764V1344.62M861.2 813.13H1441.82M958.57 764V1344.62M861.2 861.37H1441.82M1006.81 764V1344.62M861.2 909.61H1441.82M1055.04 764V1344.62M861.2 957.84H1441.82M1103.28 764V1344.62M861.2 1006.08H1441.82M1151.51 764V1344.62M861.2 1054.31H1441.82M1199.74 764V1344.62M861.2 1102.55H1441.82M1247.98 764V1344.62M861.2 1150.78H1441.82M1296.22 764V1344.62M861.2 1199.01H1441.82M1344.45 764V1344.62M861.2 1247.25H1441.82M1392.68 764V1344.62M861.2 1295.49H1441.82M1440.92 764V1344.62M861.2 1343.72H1441.82" stroke="#a4a4a4" stroke-width="2" fill="none"/>
<polygon points="1055.04,1006.08 1103.28,1006.08 1103.28,1102.55 1151.51,1102.55 1151.51,1150.78 1103.28,1150.78 1103.28,1199.01 1006.81,1199.01 1006.81,1054.31 1055.04,1054.31" fill="none" stroke="#00ffff" stroke-width="5.6" stroke-linejoin="miter"/>
<circle cx="1030.92" cy="1078.43" r="12.1" fill="#ff0000"/>
<circle cx="1079.16" cy="1030.19" r="12.1" fill="#ff0000"/>
<circle cx="1127.39" cy="1078.43" r="12.1" fill="#ff0000"/>
<line x1="1440.92" y1="764.9" x2="862.1" y2="1343.72" stroke="#000" stroke-width="3" stroke-dasharray="5.9 3.85"/>
<line x1="862.1" y1="861.37" x2="1344.45" y2="1343.72" stroke="#000" stroke-width="3" stroke-dasharray="5.9 3.85"/>
<circle cx="1079.16" cy="1078.43" r="11.8" fill="#000"/>
<line x1="1030.92" y1="1078.43" x2="1063.87" y2="1045.48" stroke="#000" stroke-width="2.9"/>
<polygon points="1077.66,1031.69 1064.01,1056.94 1063.16,1046.19 1052.41,1045.34" fill="#000"/>
<line x1="1079.16" y1="1030.19" x2="1113.6" y2="1064.64" stroke="#000" stroke-width="2.9"/>
<polygon points="1127.39,1078.43 1102.15,1064.78 1112.9,1063.93 1113.75,1053.18" fill="#000"/>
<text x="1108.8" y="1051.3" font-size="49.5" fill="#fff" font-family='"DejaVu Sans", "Liberation Sans", sans-serif' textLength="17" lengthAdjust="spacingAndGlyphs">t</text>
<path d="M1107.1 1011.9 h15 v-4.4 l8.6 5.4 l-8.6 2.6 h-15 z" fill="#fff"/>
<text x="1343.5" y="896.1" font-size="50" fill="#fff" font-family='"DejaVu Sans", "Liberation Sans", sans-serif' textLength="46.3" lengthAdjust="spacingAndGlyphs">m</text>
<text x="1387.9" y="906.8" font-size="32.5" fill="#fff" font-family='"DejaVu Sans", "Liberation Sans", sans-serif' textLength="22.5" lengthAdjust="spacingAndGlyphs">1</text>
<text x="903" y="989.6" font-size="50" fill="#fff" font-family='"DejaVu Sans", "Liberation Sans", sans-serif' textLength="46.3" lengthAdjust="spacingAndGlyphs">m</text>
<text x="948.2" y="1000.3" font-size="32.5" fill="#fff" font-family='"DejaVu Sans", "Liberation Sans", sans-serif' textLength="22.5" lengthAdjust="spacingAndGlyphs">2</text>
<text font-family='"Liberation Serif", serif' fill="#000" stroke="#000" stroke-width="0.5"><tspan x="771.68" y="805" font-size="55">(</tspan><tspan x="789" y="809.4" font-size="64">d</tspan><tspan x="825.74" y="805" font-size="55">)</tspan></text>
</g>
<g id="axes-legend">
<line x1="724.5" y1="946.5" x2="812.3" y2="860.08" stroke="#000" stroke-width="2.7"/>
<polygon points="826.2,846.4 812.35,871.53 811.59,860.78 800.85,859.85" fill="#000"/>
<line x1="724.5" y1="946.5" x2="812.31" y2="1033.01" stroke="#000" stroke-width="2.7"/>
<polygon points="826.2,1046.7 800.86,1033.24 811.6,1032.31 812.37,1021.56" fill="#000"/>
<path d="M739.2 1252 V1143.6 H841" fill="none" stroke="#000" stroke-width="0"/>
<line x1="739.2" y1="1142.3" x2="739.2" y2="1233.1" stroke="#000" stroke-width="2.6"/>
<polygon points="739.2,1252.6 731,1225.1 739.2,1232.1 747.4,1225.1" fill="#000"/>
<line x1="737.9" y1="1143.6" x2="822.3" y2="1143.6" stroke="#000" stroke-width="2.6"/>
<polygon points="841.8,1143.6 814.3,1151.8 821.3,1143.6 814.3,1135.4" fill="#000"/>
<text x="723" y="881.3" font-size="62" fill="#000" font-family='"Liberation Serif", serif' stroke="#000" stroke-width="0.35" textLength="28.6" lengthAdjust="spacingAndGlyphs">a</text>
<text x="754.2" y="892.8" font-size="35" fill="#000" font-family='"Liberation Serif", serif' stroke="#000" stroke-width="0.35">1</text>
<path d="M726.55 852.7 l11.75 -13 l11.75 13 l-2.6 0 l-9.15 -9.4 l-9.15 9.4 z" fill="#000"/>
<text x="764.6" y="978.5" font-size="62" fill="#000" font-family='"Liberation Serif", serif' stroke="#000" stroke-width="0.35" textLength="28.6" lengthAdjust="spacingAndGlyphs">a</text>
<text x="794.2" y="989.2" font-size="35" fill="#000" font-family='"Liberation Serif", serif' stroke="#000" stroke-width="0.35">2</text>
<path d="M768.25 949.9 l11.75 -13 l11.75 13 l-2.6 0 l-9.15 -9.4 l-9.15 9.4 z" fill="#000"/>
<text x="769.1" y="1134.3" font-size="62" fill="#000" font-family='"Liberation Serif", serif' stroke="#000" stroke-width="0.35" textLength="28.6" lengthAdjust="spacingAndGlyphs">a</text>
<path d="M771.75 1104.2 l11.75 -13 l11.75 13 l-2.6 0 l-9.15 -9.4 l-9.15 9.4 z" fill="#000"/>
<text x="700.1" y="1197" font-size="56.5" fill="#000" font-family='"Liberation Serif", serif' stroke="#000" stroke-width="0.35" textLength="31.4" lengthAdjust="spacingAndGlyphs">b</text>
<path d="M703.25 1154 l11.75 -13 l11.75 13 l-2.6 0 l-9.15 -9.4 l-9.15 9.4 z" fill="#000"/>
</g>
</svg></body></html>
